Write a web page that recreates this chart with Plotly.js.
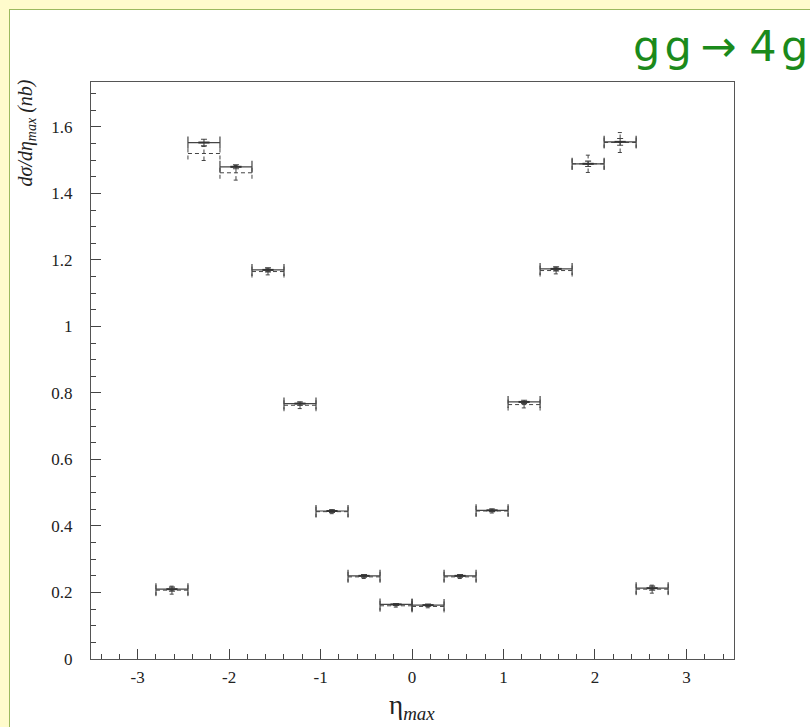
<!DOCTYPE html>
<html>
<head>
<meta charset="utf-8">
<script src="https://cdn.plot.ly/plotly-3.0.1.min.js"></script>
<style>
  html, body { margin: 0; padding: 0; }
  body { width: 810px; height: 727px; background: #fffbcc; position: relative; overflow: hidden; }
  #panel { position: absolute; left: 9px; top: 9px; right: -5px; bottom: -5px; background: #ffffff; border: 1.5px solid #9cb95e; }
  #chart { position: absolute; left: 0; top: 0; width: 810px; height: 727px; }
</style>
</head>
<body>
<div id="panel"></div>
<div id="chart"></div>
<script>
// ---- data ----
const binCenters = [-2.625, -2.275, -1.925, -1.575, -1.225, -0.875, -0.525, -0.175,
                     0.175,  0.525,  0.875,  1.225,  1.575,  1.925,  2.275,  2.625];
const binWidth = 0.35;
const solidY   = [0.210, 1.553, 1.480, 1.170, 0.768, 0.445, 0.250, 0.164,
                  0.162, 0.250, 0.447, 0.773, 1.173, 1.489, 1.555, 0.213];
const solidErr = [0.006, 0.010, 0.006, 0.006, 0.005, 0.004, 0.004, 0.003,
                  0.003, 0.004, 0.004, 0.005, 0.006, 0.008, 0.010, 0.006];
const dashedY   = [0.207, 1.520, 1.462, 1.165, 0.763, 0.443, 0.247, 0.160,
                   0.158, 0.247, 0.445, 0.765, 1.168, 1.489, 1.553, 0.210];
const dashedErr = [0.012, 0.021, 0.022, 0.010, 0.010, 0.006, 0.005, 0.004,
                   0.004, 0.005, 0.006, 0.010, 0.010, 0.026, 0.030, 0.012];
const xTickVals = [-3, -2, -1, 0, 1, 2, 3];
const yTickVals = [0, 0.2, 0.4, 0.6, 0.8, 1, 1.2, 1.4, 1.6];

// ---- build dashed error boxes from the data ----
const half = binWidth / 2;
const capY = 0.018;   // vertical cap half-height (data units)
const capX = 0.025;   // horizontal cap half-width (data units)
const dx = [], dy = [];
function seg(x0, y0, x1, y1) { dx.push(x0, x1, null); dy.push(y0, y1, null); }
binCenters.forEach((c, i) => {
  const v = dashedY[i], e = dashedErr[i];
  seg(c - half, v, c + half, v);
  seg(c - half, v - capY, c - half, v + capY);
  seg(c + half, v - capY, c + half, v + capY);
  seg(c, v - e, c, v + e);
  seg(c - capX, v - e, c + capX, v - e);
  seg(c - capX, v + e, c + capX, v + e);
});

const solid = {
  type: 'scatter', mode: 'markers',
  x: binCenters, y: solidY,
  marker: { symbol: 'line-ew', size: 8, color: '#333', line: { width: 2, color: '#333' } },
  error_x: { type: 'constant', value: half, thickness: 1.2, width: 6, color: '#444' },
  error_y: { type: 'data', array: solidErr, thickness: 1.1, width: 3, color: '#444' },
  hoverinfo: 'x+y', showlegend: false
};
const dashed = {
  type: 'scatter', mode: 'lines',
  x: dx, y: dy,
  line: { color: '#444', width: 1, dash: '4px,3px' },
  hoverinfo: 'skip', showlegend: false
};

const tickFont = { family: 'Liberation Serif, serif', size: 17, color: '#222' };
const layout = {
  width: 810, height: 727,
  paper_bgcolor: 'rgba(0,0,0,0)', plot_bgcolor: '#ffffff',
  margin: { l: 91, r: 76, t: 82, b: 68 },
  xaxis: {
    range: [-3.51, 3.52], tickvals: xTickVals, ticktext: xTickVals.map(String),
    ticks: 'inside', ticklen: 10, tickwidth: 1, tickcolor: '#444',
    minor: { dtick: 0.2, tick0: 0, ticks: 'inside', ticklen: 5, tickcolor: '#444', tickwidth: 1 },
    showgrid: false, zeroline: false,
    showline: true, linecolor: '#555', linewidth: 1.2, mirror: true,
    tickfont: tickFont, ticklabelstandoff: 2
  },
  yaxis: {
    range: [0, 1.735], tickvals: yTickVals, ticktext: yTickVals.map(String),
    ticks: 'inside', ticklen: 10, tickwidth: 1, tickcolor: '#444',
    minor: { dtick: 0.05, tick0: 0, ticks: 'inside', ticklen: 5, tickcolor: '#444', tickwidth: 1 },
    showgrid: false, zeroline: false,
    showline: true, linecolor: '#555', linewidth: 1.2, mirror: true,
    tickfont: tickFont, ticklabelstandoff: 14
  },
  annotations: [
    { text: 'g\u200Ag\u2009\u2192\u2009\u200A4\u200Ag', xref: 'paper', yref: 'paper', x: 1.118, y: 1.063,
      xanchor: 'right', yanchor: 'middle', showarrow: false,
      font: { family: 'DejaVu Sans, sans-serif', size: 43, color: '#1b8a1b' } },
    { text: '<i>d\u03c3/d\u03b7<sub>max</sub> (nb)</i>', xref: 'paper', yref: 'paper',
      x: -0.1, y: 0.912, xanchor: 'center', yanchor: 'middle', textangle: -90, showarrow: false,
      font: { family: 'Liberation Serif, serif', size: 20, color: '#222' } },
    { text: '\u03b7<sub><i>max</i></sub>', xref: 'x', yref: 'paper', x: 0, y: -0.083,
      xanchor: 'center', yanchor: 'middle', showarrow: false,
      font: { family: 'Liberation Serif, serif', size: 27, color: '#222' } }
  ]
};

Plotly.newPlot('chart', [dashed, solid], layout, { staticPlot: true, displayModeBar: false });
</script>
</body>
</html>
